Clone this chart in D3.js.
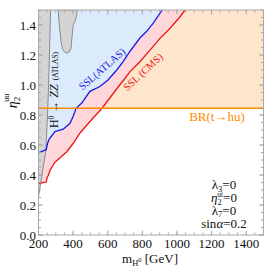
<!DOCTYPE html>
<html><head><meta charset="utf-8">
<script src="https://cdn.jsdelivr.net/npm/d3@7"></script>
<style>body{margin:0;background:#fff}svg{display:block}</style>
</head><body><svg id="c" width="274" height="274"></svg>
<script>
// ---- data ----
const massTicks = [200,400,600,800,1000,1200,1400];
const etaTicks = [0,0.2,0.4,0.6,0.8,1.0,1.2,1.4];
const etaTickLabels = ["0.0","0.2","0.4","0.6","0.8","1.0","1.2","1.4"];
const brLimit = 0.845;
const sslAtlasMass = [200,245,252,262,276,295,343,382,400,417,450,497,555,603,652,690,729,786,825,863,915];
const sslAtlasEta  = [0.548,0.57,0.61,0.64,0.66,0.69,0.705,0.745,0.79,0.845,0.88,0.958,0.99,1.035,1.10,1.158,1.225,1.313,1.358,1.413,1.5];
const sslCmsMass = [200,245,250,258,266,295,330,363,400,440,500,567,610,652,690,729,786,844,902,960,1018,1046];
const sslCmsEta  = [0.345,0.353,0.385,0.40,0.43,0.485,0.52,0.555,0.61,0.68,0.76,0.845,0.91,0.975,1.03,1.089,1.155,1.233,1.311,1.378,1.455,1.5];
const zzStripMass = [200,243,246,252,257,263,270];
const zzStripEta  = [0.255,0.567,0.65,0.8,0.95,1.2,1.5];
const zzDipMass = [314,318,324,330,340,353,363,378,388,395,401,411,421,424];
const zzDipEta  = [1.5,1.425,1.358,1.291,1.235,1.218,1.213,1.22,1.247,1.335,1.402,1.425,1.469,1.5];

// ---- layout ----
const svg = d3.select("#c");
const L=38.5, R=263.5, T=10, B=235;
const x = d3.scaleLinear().domain([200,1500]).range([L,R]);
const y = d3.scaleLinear().domain([0,1.5]).range([B,T]);
const serif = "'Liberation Serif','Times New Roman',serif";
const zip = (a,b)=>a.map((v,i)=>[v,b[i]]);
const line = d3.line().x(d=>x(d[0])).y(d=>y(d[1]));

svg.append("clipPath").attr("id","clip").append("rect")
  .attr("x",L).attr("y",T).attr("width",R-L).attr("height",B-T);
const g = svg.append("g").attr("clip-path","url(#clip)");

// peach region above BR limit
g.append("rect").attr("x",x(200)).attr("y",y(1.5)).attr("width",x(1500)-x(200))
  .attr("height",y(brLimit)-y(1.5)).attr("fill","#ffe5cc");
// pink: excluded by CMS SSL
const cms = zip(sslCmsMass,sslCmsEta);
g.append("path").attr("d",line(cms.concat([[200,1.5]]))+"Z").attr("fill","#ffd7db");
// light blue: excluded by ATLAS SSL
const atl = zip(sslAtlasMass,sslAtlasEta);
g.append("path").attr("d",line(atl.concat([[200,1.5]]))+"Z").attr("fill","#dcebfb");
// gray: H0->ZZ
const strip = zip(zzStripMass,zzStripEta);
g.append("path").attr("d",line(strip.concat([[200,1.5]]))+"Z").attr("fill","#d4d4d4");
g.append("path").attr("d",line(strip)).attr("fill","none").attr("stroke","#8a8a8a").attr("stroke-width",1);
const dip = zip(zzDipMass,zzDipEta);
g.append("path").attr("d",line(dip)+"Z").attr("fill","#d4d4d4").attr("stroke","#8a8a8a").attr("stroke-width",1);
// curves
g.append("path").attr("d",line(atl)).attr("fill","none").attr("stroke","#1a1ae6").attr("stroke-width",1.3);
g.append("path").attr("d",line(cms)).attr("fill","none").attr("stroke","#ee1515").attr("stroke-width",1.3);
// BR line
g.append("line").attr("x1",x(200)).attr("x2",x(1500)).attr("y1",y(brLimit)).attr("y2",y(brLimit))
  .attr("stroke","#ff8c00").attr("stroke-width",1.5);

// ---- frame & ticks ----
const fc = "#a8a8a8";
svg.append("rect").attr("x",L).attr("y",T).attr("width",R-L).attr("height",B-T)
  .attr("fill","none").attr("stroke",fc).attr("stroke-width",1);
const minorX = d3.range(200,1501,50), minorY = d3.range(0,1.501,0.05);
function ticks(vals, len){
  vals.forEach(v=>{
    svg.append("line").attr("x1",x(v)).attr("x2",x(v)).attr("y1",B).attr("y2",B-len).attr("stroke",fc);
    svg.append("line").attr("x1",x(v)).attr("x2",x(v)).attr("y1",T).attr("y2",T+len).attr("stroke",fc);
  });
}
ticks(minorX,2.5); ticks(massTicks,4.5);
function yt(vals,len){
  vals.forEach(v=>{
    svg.append("line").attr("y1",y(v)).attr("y2",y(v)).attr("x1",L).attr("x2",L+len).attr("stroke",fc);
    svg.append("line").attr("y1",y(v)).attr("y2",y(v)).attr("x1",R).attr("x2",R-len).attr("stroke",fc);
  });
}
yt(minorY,2.5); yt(etaTicks,4.5);

svg.selectAll(".xl").data(massTicks).enter().append("text")
  .attr("x",d=>x(d)).attr("y",247.5).attr("text-anchor","middle")
  .attr("font-family",serif).attr("font-size",13).attr("fill","#111").text(d=>d);
svg.selectAll(".yl").data(etaTicks).enter().append("text")
  .attr("x",36).attr("y",d=>y(d)+4.5).attr("text-anchor","end")
  .attr("font-family",serif).attr("font-size",13).attr("fill","#111").text((d,i)=>etaTickLabels[i]);

// axis labels
const xlab = svg.append("text").attr("x",150).attr("y",263).attr("text-anchor","middle")
  .attr("font-family",serif).attr("font-size",13).attr("fill","#111");
xlab.append("tspan").text("m");
xlab.append("tspan").attr("font-size",8.5).attr("dy",3).text("H");
xlab.append("tspan").attr("font-size",6.5).attr("dy",-4).text("0");
xlab.append("tspan").attr("dy",1).text(" [GeV]");

const ylab = svg.append("text").attr("transform","translate(17,101) rotate(-90)")
  .attr("text-anchor","middle").attr("font-family",serif).attr("font-size",14).attr("fill","#111");
ylab.append("tspan").attr("font-style","italic").text("η");
ylab.append("tspan").attr("font-size",9).attr("dy",3).text("2");
ylab.append("tspan").attr("font-size",8).attr("dx",-5).attr("dy",-11).text("uu");

// region labels
svg.append("text").attr("transform","translate(58,90) rotate(-90)").attr("text-anchor","middle")
  .attr("font-family",serif).attr("font-size",12).attr("fill","#111")
  .call(t=>{
    t.append("tspan").text("H");
    t.append("tspan").attr("font-size",7.5).attr("dy",-4.5).text("0");
    t.append("tspan").attr("dy",4.5).text(" → ");
    t.append("tspan").attr("font-style","italic").text("ZZ");
    t.append("tspan").attr("font-size",7.5).attr("dx",4).text("(ATLAS)");
  });
svg.append("text").attr("transform","translate(102,69) rotate(-41)").attr("text-anchor","middle")
  .attr("dominant-baseline","central").attr("font-family",serif).attr("font-size",10.5)
  .attr("fill","#1a1ae6").text("SSL(ATLAS)");
svg.append("text").attr("transform","translate(143,72) rotate(-43)").attr("text-anchor","middle")
  .attr("dominant-baseline","central").attr("font-family",serif).attr("font-size",10.5)
  .attr("fill","#ee1515").text("SSL (CMS)");
svg.append("text").attr("x",217).attr("y",121).attr("text-anchor","middle")
  .attr("font-family",serif).attr("font-size",13).attr("fill","#ff8c00").text("BR(t→hu)");

// parameter box
const px = 224;
function pline(yy, build){ const t=svg.append("text").attr("x",px).attr("y",yy).attr("text-anchor","middle")
  .attr("font-family",serif).attr("font-size",13).attr("fill","#111"); build(t); }
pline(189,t=>{t.append("tspan").text("λ");t.append("tspan").attr("font-size",8.5).attr("dy",2.5).text("3");t.append("tspan").attr("dy",-2.5).text("=0");});
pline(202,t=>{t.append("tspan").attr("font-style","italic").text("η");t.append("tspan").attr("font-size",8.5).attr("dy",2.5).text("2");
  t.append("tspan").attr("font-size",7.5).attr("dx",-4.5).attr("dy",-8).text("ut");t.append("tspan").attr("dy",5.5).text("=0");});
pline(214.5,t=>{t.append("tspan").text("λ");t.append("tspan").attr("font-size",8.5).attr("dy",2.5).text("7");t.append("tspan").attr("dy",-2.5).text("=0");});
pline(227.5,t=>{t.append("tspan").text("sin");t.append("tspan").attr("font-style","italic").text("α");t.append("tspan").text("=0.2");});
</script></body></html>
